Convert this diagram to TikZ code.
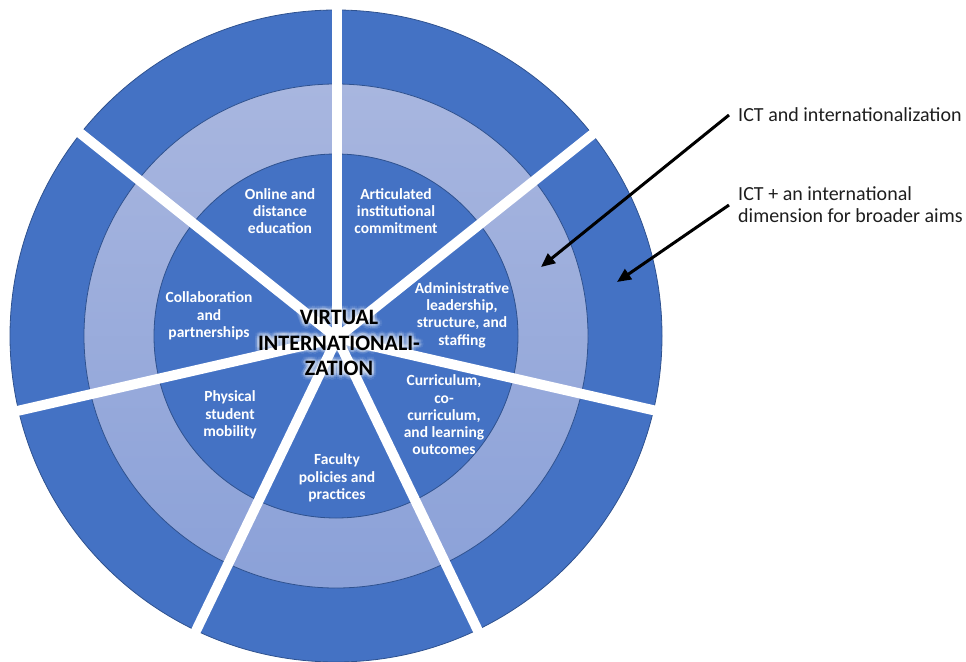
\documentclass[tikz,border=0pt]{standalone}
\usepackage{fontspec}
\setmainfont{Carlito}
\usetikzlibrary{arrows.meta}

\definecolor{ringdark}{HTML}{4472C4}
\definecolor{ringedge}{HTML}{2F528F}
\definecolor{ringlighttop}{HTML}{A8B6DF}
\definecolor{ringlightbot}{HTML}{8BA1D8}
\definecolor{notegrey}{HTML}{1E1E1E}

\begin{document}
\begin{tikzpicture}[x=1pt,y=-1pt,
  area/.style={font=\fontsize{15.5}{17.3}\selectfont\bfseries, text=white,
    align=center, inner sep=0pt},
  hubtext/.style={font=\fontsize{22}{25.5}\selectfont\bfseries,
    align=center, inner sep=0pt},
  gap/.style={draw=white, line width=10pt},
  note/.style={font=\fontsize{20}{22}\selectfont, text=notegrey, align=left,
    anchor=west, inner xsep=9pt, inner ysep=0pt},
  pointer/.style={draw=black, line width=3pt,
    -{Triangle[length=14pt,width=12pt]}}
]
\useasboundingbox (0,0) rectangle (966,661);

\coordinate (C) at (336,336);
\coordinate (O) at (337,338);

\begin{scope}
  \clip (0,0) rectangle (966,661);
  % three concentric bands
  \filldraw[fill=ringdark, draw=ringedge, line width=0.8pt] (C) circle[radius=326];
  \shadedraw[top color=ringlighttop, bottom color=ringlightbot,
    draw=ringedge, line width=0.8pt] (C) circle[radius=252];
  \filldraw[fill=ringdark, draw=ringedge, line width=0.8pt] (C) circle[radius=182];
  % white gaps between the seven sectors
  \foreach \a in {-90,-38.571,12.857,64.286,115.714,167.143,218.571}
    \draw[gap] (O) -- ++(\a:345);
\end{scope}

% sector labels
\node[area] (online)   at (280,211) {Online and\\distance\\education};
\node[area] (commit)   at (396,211) {Articulated\\institutional\\commitment};
\node[area] (admin)    at (462,315) {Administrative\\leadership,\\structure, and\\staffing};
\node[area] (curric)   at (444,415) {Curriculum,\\co-\\curriculum,\\and learning\\outcomes};
\node[area] (faculty)  at (337,478) {Faculty\\policies and\\practices};
\node[area] (mobility) at (230,415) {Physical\\student\\mobility};
\node[area] (collab)   at (209,316) {Collaboration\\and\\partnerships};

% soft light glow around the hub title
\foreach \g in {0,30,...,330} {
  \path (339,343) ++(\g:2.5) node[hubtext, text=white, text opacity=0.15]
    (glowa\g) {VIRTUAL\\INTERNATIONALI-\\ZATION};
  \path (339,343) ++(\g:4.5) node[hubtext, text=white, text opacity=0.08]
    (glowb\g) {VIRTUAL\\INTERNATIONALI-\\ZATION};
}
\node[hubtext, text=black] (hub) at (339,343) {VIRTUAL\\INTERNATIONALI-\\ZATION};

% side notes with pointers
\coordinate (tipA) at (541,267);
\coordinate (tipB) at (617,282);
\node[note] (ictA) at (729,115) {ICT and internationalization};
\node[note] (ictB) at (729,205) {ICT + an international\\dimension for broader aims};
\draw[pointer] (ictA.west) -- (tipA);
\draw[pointer] (ictB.west) -- (tipB);
\end{tikzpicture}
\end{document}
